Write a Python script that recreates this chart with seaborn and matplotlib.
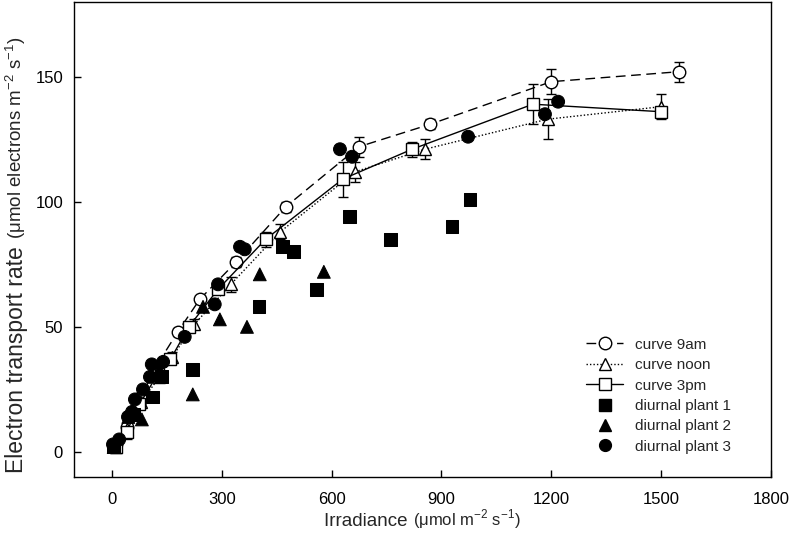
import numpy as np
import pandas as pd
import matplotlib.pyplot as plt
import seaborn as sns
from matplotlib.lines import Line2D

# light response curves (mean +- error)
x_9am = [10, 40, 80, 120, 180, 240, 340, 475, 675, 870, 1200, 1550]
y_9am = [3, 10, 22, 34, 48, 61, 76, 98, 122, 131, 148, 152]
e_9am = [1, 1, 1, 1.5, 1.5, 1.5, 2, 2, 4, 2, 5, 4]

x_noon = [10, 40, 80, 130, 165, 225, 325, 460, 665, 855, 1190, 1500]
y_noon = [2, 9, 20, 30, 38, 51, 67, 88, 112, 121, 133, 138]
e_noon = [1, 1, 1, 1.5, 2, 2, 3, 3, 4, 4, 8, 5]

x_3pm = [10, 40, 75, 125, 160, 210, 290, 420, 630, 820, 1150, 1500]
y_3pm = [2, 8, 19, 31, 37, 50, 65, 85, 109, 121, 139, 136]
e_3pm = [1, 3, 1, 1.5, 2, 2, 2, 3, 7, 3, 8, 2]

# diurnal measurements
x_p1 = [5, 60, 112, 136, 221, 402, 465, 497, 560, 650, 762, 929, 978]
y_p1 = [2, 15, 22, 30, 33, 58, 82, 80, 65, 94, 85, 90, 101]

x_p2 = [5, 45, 82, 130, 221, 249, 295, 369, 404, 579]
y_p2 = [2, 14, 13, 33, 23, 58, 53, 50, 71, 72]

x_p3 = [3, 20, 44, 55, 63, 85, 104, 109, 140, 199, 281, 290, 350, 363, 623, 656, 973, 1183, 1219]
y_p3 = [3, 5, 14, 16, 21, 25, 30, 35, 36, 46, 59, 67, 82, 81, 121, 118, 126, 135, 140]

labels = ['curve 9am', 'curve noon', 'curve 3pm', 'diurnal plant 1', 'diurnal plant 2', 'diurnal plant 3']

sns.set_style('ticks')
plt.rcParams['font.family'] = ['Liberation Sans', 'DejaVu Sans']
plt.rcParams['mathtext.fontset'] = 'custom'
plt.rcParams['mathtext.rm'] = 'Liberation Sans'

fig, ax = plt.subplots(figsize=(7.89, 5.42), dpi=100)
fig.subplots_adjust(left=0.094, right=0.977, top=0.997, bottom=0.12)

diurnal = pd.concat([
    pd.DataFrame({'irr': x_p1, 'etr': y_p1, 'series': labels[3]}),
    pd.DataFrame({'irr': x_p2, 'etr': y_p2, 'series': labels[4]}),
    pd.DataFrame({'irr': x_p3, 'etr': y_p3, 'series': labels[5]}),
])
sns.scatterplot(data=diurnal, x='irr', y='etr', style='series',
                markers={labels[3]: 's', labels[4]: '^', labels[5]: 'o'},
                color='black', edgecolor='black', s=85, legend=False, ax=ax, zorder=4)

styles = [(0, (7, 4)), (0, (1, 1.5)), '-']
marks = ['o', '^', 's']
curves = [(x_9am, y_9am, e_9am), (x_noon, y_noon, e_noon), (x_3pm, y_3pm, e_3pm)]
handles = []
for (xs, ys, es), ls, mk, lab in zip(curves, styles, marks, labels[:3]):
    ax.errorbar(xs, ys, yerr=es, fmt='none', ecolor='black', elinewidth=1,
                capsize=3.5, capthick=1, zorder=2)
    ax.plot(xs, ys, color='black', lw=1, ls=ls, marker=mk, ms=9,
            mfc='white', mec='black', mew=1, zorder=3)
    handles.append(Line2D([], [], color='black', lw=1, ls=ls, marker=mk, ms=9,
                          mfc='white', mec='black'))
for mk in ['s', '^', 'o']:
    handles.append(Line2D([], [], ls='none', marker=mk, ms=8.5, color='black'))

ax.set_xlim(-103, 1800)
ax.set_ylim(-10, 180)
ax.set_xticks([0, 300, 600, 900, 1200, 1500, 1800])
ax.set_yticks([0, 50, 100, 150])
ax.tick_params(direction='in', length=5, width=1, labelsize=12, colors='black')
ax.tick_params(axis='x', pad=11)
ax.tick_params(axis='y', pad=8)
for sp in ax.spines.values():
    sp.set_color('black')
    sp.set_linewidth(1)
ax.set_xlabel('')
ax.set_ylabel('')

ax.legend(handles, labels, loc='upper left', bbox_to_anchor=(0.735, 0.293),
          frameon=False, fontsize=11, handlelength=2.4, handletextpad=0.8,
          labelspacing=0.42, borderpad=0, borderaxespad=0)

# axis titles: main part larger, unit part smaller
fig.canvas.draw()
r = fig.canvas.get_renderer()
t1 = fig.text(0.036, 0.128, 'Electron transport rate ', rotation=90,
              ha='right', va='bottom', fontsize=16.5)
bb = t1.get_window_extent(r).transformed(fig.transFigure.inverted())
fig.text(0.036, bb.y1, '(μmol electrons m$^{-2}$ s$^{-1}$)', rotation=90,
         ha='right', va='bottom', fontsize=13.5)

t2 = fig.text(0.5, 0.03, 'Irradiance ', ha='left', va='baseline', fontsize=13.5)
t3 = fig.text(0.5, 0.03, '(μmol m$^{-2}$ s$^{-1}$)', ha='left', va='baseline', fontsize=12)
b2 = t2.get_window_extent(r).transformed(fig.transFigure.inverted())
b3 = t3.get_window_extent(r).transformed(fig.transFigure.inverted())
total = b2.width + b3.width
start = 422 / 789 - total / 2
t2.set_x(start)
t3.set_x(start + b2.width)

fig.savefig('out.png', dpi=100)
